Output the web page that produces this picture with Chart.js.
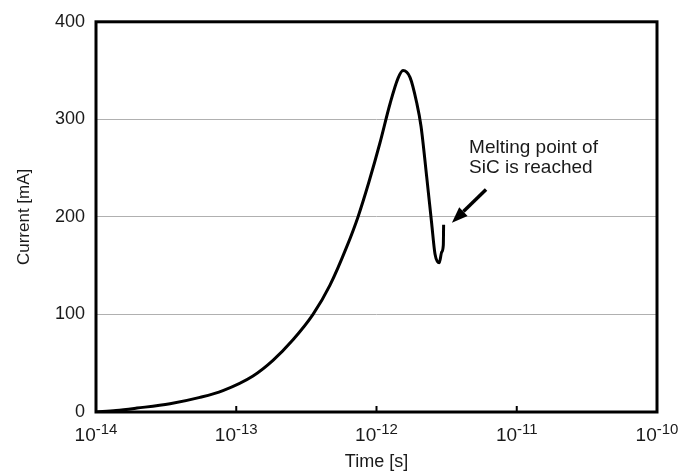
<!DOCTYPE html>
<html>
<head>
<meta charset="utf-8">
<title>Current vs time</title>
<script src="https://cdn.jsdelivr.net/npm/chart.js@4.4.1/dist/chart.umd.min.js"></script>
<style>
  html, body { margin: 0; padding: 0; background: #fff; }
  #wrap { width: 683px; height: 473px; }
</style>
</head>
<body>
<div id="wrap"><canvas id="currentChart" width="683" height="473"></canvas></div>
<script>
/* DATA */
var timeS = [1e-14, 1.39e-14, 1.96e-14, 3.37e-14, 5.51e-14, 8.04e-14, 1.317e-13, 1.828e-13,
             2.539e-13, 3.526e-13, 4.66e-13, 6.16e-13, 7.38e-13, 8.84e-13, 1.059e-12,
             1.249e-12, 1.423e-12, 1.545e-12, 1.734e-12, 1.935e-12, 2.077e-12, 2.28e-12,
             2.475e-12, 2.613e-12, 2.804e-12, 2.917e-12, 2.995e-12, 3.01e-12];
var currentMA = [0, 1.5, 4, 8.5, 15, 22, 37, 53,
                 74, 100, 130, 170, 200, 236, 276,
                 316, 342, 350, 343, 317, 293, 241,
                 193, 162, 153, 164, 171, 192];
var yTicks = [0, 100, 200, 300, 400];
var xTickValues = [1e-14, 1e-13, 1e-12, 1e-11, 1e-10];
var xTickExponents = ['-14', '-13', '-12', '-11', '-10'];
var noteLines = ['Melting point of', 'SiC is reached'];
var notePos = [4.57e-12, 266];      // left / baseline of first line
var arrowFrom = [6.04e-12, 228];
var arrowTo = [3.45e-12, 194];

var FONT = '"Liberation Sans", Arial, Helvetica, sans-serif';

/* frame, inner ticks, tick labels and note */
var framePlugin = {
    id: 'frame',
    afterDraw: function(chart) {
        var ctx = chart.ctx;
        var a = chart.chartArea;
        var xs = chart.scales.x, ys = chart.scales.y;
        ctx.save();

        // inner tick marks on bottom axis
        ctx.strokeStyle = '#000';
        ctx.lineWidth = 2;
        xTickValues.forEach(function(v, i) {
            if (i === 0 || i === xTickValues.length - 1) return;
            var px = xs.getPixelForValue(v);
            ctx.beginPath();
            ctx.moveTo(px, a.bottom);
            ctx.lineTo(px, a.bottom - 6);
            ctx.stroke();
        });

        // box
        ctx.lineWidth = 3;
        ctx.strokeRect(a.left, a.top, a.right - a.left, a.bottom - a.top);

        // x tick labels 10^n
        ctx.fillStyle = '#1a1a1a';
        ctx.textBaseline = 'alphabetic';
        ctx.textAlign = 'left';
        xTickValues.forEach(function(v, i) {
            var px = xs.getPixelForValue(v);
            ctx.font = '19px ' + FONT;
            var wb = ctx.measureText('10').width;
            ctx.font = '15px ' + FONT;
            var we = ctx.measureText(xTickExponents[i]).width;
            var x0 = px - (wb + we) / 2;
            ctx.font = '19px ' + FONT;
            ctx.fillText('10', x0, a.bottom + 29);
            ctx.font = '15px ' + FONT;
            ctx.fillText(xTickExponents[i], x0 + wb, a.bottom + 22);
        });

        // note text
        ctx.font = '19px ' + FONT;
        var tx = xs.getPixelForValue(notePos[0]);
        var ty = ys.getPixelForValue(notePos[1]);
        noteLines.forEach(function(s, i) {
            ctx.fillText(s, tx, ty + i * 20.5);
        });

        // arrow
        var x1 = xs.getPixelForValue(arrowFrom[0]), y1 = ys.getPixelForValue(arrowFrom[1]);
        var x2 = xs.getPixelForValue(arrowTo[0]), y2 = ys.getPixelForValue(arrowTo[1]);
        var ang = Math.atan2(y2 - y1, x2 - x1);
        var headLen = 16, headW = 6;
        var bx = x2 - headLen * Math.cos(ang), by = y2 - headLen * Math.sin(ang);
        ctx.strokeStyle = '#000';
        ctx.lineWidth = 3.5;
        ctx.beginPath();
        ctx.moveTo(x1, y1);
        ctx.lineTo(bx, by);
        ctx.stroke();
        ctx.fillStyle = '#000';
        ctx.beginPath();
        ctx.moveTo(x2, y2);
        ctx.lineTo(bx + headW * Math.sin(ang), by - headW * Math.cos(ang));
        ctx.lineTo(bx - headW * Math.sin(ang), by + headW * Math.cos(ang));
        ctx.closePath();
        ctx.fill();

        ctx.restore();
    }
};

var points = timeS.map(function(t, i) {
    return { x: t, y: currentMA[i] };
});

var chart = new Chart(document.getElementById('currentChart'), {
    type: 'line',
    data: {
        datasets: [{
            data: points,
            borderColor: '#000',
            borderWidth: 3,
            pointRadius: 0,
            fill: false,
            cubicInterpolationMode: 'monotone'
        }]
    },
    options: {
        responsive: false,
        animation: false,
        layout: { padding: { top: 19, right: 26, left: 0, bottom: 0 } },
        plugins: {
            legend: { display: false },
            tooltip: { enabled: false }
        },
        scales: {
            x: {
                type: 'logarithmic',
                min: 1e-14,
                max: 1e-10,
                afterBuildTicks: function(s) {
                    s.ticks = xTickValues.map(function(v) { return { value: v, major: true }; });
                },
                afterFit: function(s) { s.height = 61; },
                grid: { display: false },
                border: { display: false },
                ticks: { display: false },
                title: {
                    display: true,
                    text: 'Time [s]',
                    color: '#1a1a1a',
                    font: { family: FONT, size: 18 },
                    padding: { top: 0, bottom: 0 }
                }
            },
            y: {
                min: 0,
                max: 400,
                afterBuildTicks: function(s) {
                    s.ticks = yTicks.map(function(v) { return { value: v }; });
                },
                afterFit: function(s) { s.width = 96; },
                grid: { color: '#b0b0b0', lineWidth: 1, drawTicks: false },
                border: { display: false },
                ticks: {
                    padding: 11,
                    color: '#1a1a1a',
                    font: { family: FONT, size: 18 }
                },
                title: {
                    display: true,
                    text: 'Current [mA]',
                    color: '#1a1a1a',
                    font: { family: FONT, size: 17 },
                    padding: { top: 14, bottom: 0 }
                }
            }
        }
    },
    plugins: [framePlugin]
});
</script>
</body>
</html>
